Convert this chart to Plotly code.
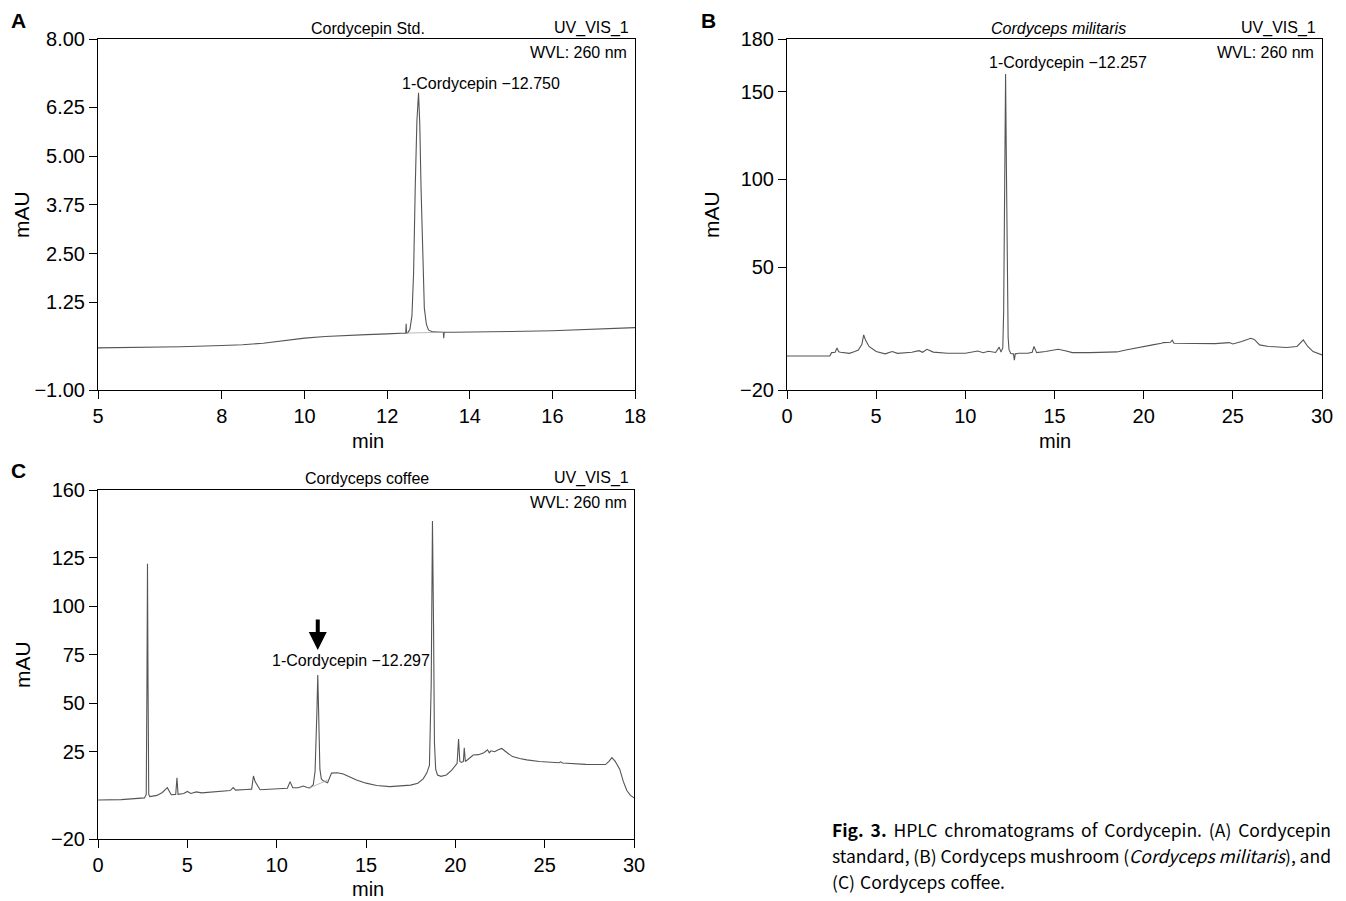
import plotly.graph_objects as go

# ---------------- Data ----------------
# Panel A: Cordycepin standard
time_a = [5.0, 6.0, 7.0, 8.0, 8.5, 9.0, 9.5, 10.0, 10.5, 11.0, 11.5, 12.0, 12.40,
          12.45, 12.46, 12.47, 12.50, 12.55, 12.60, 12.64, 12.68, 12.72, 12.76,
          12.79, 12.82, 12.86, 12.90, 12.95, 13.00, 13.10, 13.20, 13.36, 13.37,
          13.38, 13.6, 14.0, 15.0, 16.0, 17.0, 18.0]
mau_a = [0.08, 0.09, 0.11, 0.14, 0.16, 0.20, 0.26, 0.33, 0.37, 0.40, 0.42, 0.44, 0.45,
         0.46, 0.70, 0.46, 0.47, 0.55, 0.9, 2.0, 4.2, 5.9, 6.62,
         5.8, 4.2, 2.3, 1.1, 0.68, 0.54, 0.49, 0.48, 0.48, 0.33,
         0.48, 0.48, 0.49, 0.50, 0.52, 0.56, 0.60]
base_a_t = [12.47, 13.37]
base_a_v = [0.46, 0.48]

# Panel B: Cordyceps militaris
time_b = [0.0, 2.4, 2.5, 2.7, 2.8, 2.9, 3.0, 3.5, 3.8, 4.0, 4.2, 4.3, 4.4, 4.6, 5.0, 5.5,
          5.9, 6.2, 7.0, 7.4, 7.6, 7.85, 8.2, 9.0, 10.0, 10.7, 11.0, 11.3, 11.7, 11.9,
          12.0, 12.10, 12.15, 12.20, 12.257, 12.30, 12.35, 12.40, 12.45, 12.55, 12.70,
          12.75, 12.80, 13.0, 13.5, 13.75, 13.85, 14.0, 14.5, 15.2, 15.6, 16.0, 17.0,
          18.0, 18.5, 19.0, 19.5, 20.0, 20.5, 21.0, 21.1, 21.5, 21.6, 21.7, 22.0, 23.0,
          24.0, 24.8, 25.0, 25.5, 26.0, 26.2, 26.5, 27.0, 28.0, 28.6, 28.95, 29.2, 29.5,
          30.0]
mau_b = [-0.6, -0.6, 1.3, 1.5, 3.9, 1.8, 1.5, 0.9, 1.9, 2.8, 6.0, 11.4, 8.5, 4.8, 1.9, 0.6,
         1.9, 0.9, 1.5, 2.4, 1.5, 3.2, 1.6, 0.9, 0.9, 2.2, 1.2, 2.1, 1.4, 4.4,
         1.6, 4.0, 25.0, 85.0, 160.0, 110.0, 40.0, 10.0, 3.0, 0.8, 0.6,
         -3.0, 0.6, 0.9, 0.9, 1.5, 4.8, 1.3, 1.9, 3.2, 2.4, 1.3, 1.3,
         1.3, 1.7, 2.8, 3.9, 4.8, 5.7, 6.6, 7.0, 7.2, 8.4, 6.6, 6.6, 6.6,
         6.4, 7.0, 6.2, 7.6, 9.5, 8.8, 5.7, 4.8, 4.2, 4.8, 8.5, 4.8, 1.9,
         0.0]

# Panel C: Cordyceps coffee
time_c = [0.0, 1.3, 2.6, 2.70, 2.74, 2.77, 2.80, 2.84, 2.9, 3.3, 3.6, 3.88, 4.1, 4.35,
          4.42, 4.48, 4.8, 5.0, 5.2, 5.5, 5.8, 6.3, 7.0, 7.4, 7.57, 7.7, 8.3, 8.6, 8.7,
          8.8, 9.07, 9.5, 10.3, 10.6, 10.75, 10.9, 11.2, 11.49, 11.7, 11.86, 12.05,
          12.15, 12.25, 12.30, 12.35, 12.42, 12.5, 12.6, 12.85, 13.07, 13.4, 13.73,
          14.1, 14.47, 15.0, 15.6, 16.34, 16.9, 17.5, 17.9, 18.2, 18.4, 18.55, 18.65,
          18.72, 18.78, 18.83, 18.9, 19.0, 19.2, 19.5, 19.8, 20.0, 20.1, 20.18, 20.25,
          20.35, 20.45, 20.5, 20.56, 20.7, 21.0, 21.3, 21.6, 21.8, 21.9, 22.0, 22.2,
          22.4, 22.6, 22.9, 23.2, 23.6, 24.0, 24.7, 25.3, 25.8, 25.9, 26.0, 27.3, 28.4,
          28.6, 28.76, 28.95, 29.2, 29.4, 29.6, 29.8, 30.0]
mau_c = [0.1, 0.3, 1.2, 3.0, 60.0, 122.0, 60.0, 3.0, 1.9, 2.5, 4.0, 6.5, 2.8, 3.0,
         11.6, 3.0, 3.5, 4.5, 3.5, 4.3, 3.8, 4.2, 4.6, 5.0, 6.5, 5.2, 5.5, 5.7, 12.5,
         9.5, 5.4, 5.6, 6.0, 6.2, 9.6, 6.5, 6.4, 7.3, 6.6, 6.4, 8.0,
         15.0, 45.0, 64.6, 45.0, 16.0, 11.0, 10.0, 9.0, 14.0, 14.2, 13.5,
         12.0, 10.4, 8.8, 7.6, 7.0, 7.5, 7.8, 8.8, 11.0, 14.0, 18.0, 60.0,
         144.0, 90.0, 30.0, 16.0, 13.0, 12.3, 13.0, 15.5, 17.5, 19.0, 31.5, 20.0,
         19.5, 20.0, 27.0, 20.0, 21.0, 23.3, 23.5, 24.5, 26.0, 24.5, 25.5, 25.0,
         26.0, 26.7, 24.5, 22.5, 21.5, 20.8, 20.0, 19.5, 19.3, 19.8, 19.2, 18.5, 18.4,
         20.0, 22.0, 20.0, 16.0, 9.7, 5.0, 2.5, 1.2]
base_c_t = [11.86, 12.85]
base_c_v = [6.4, 10.4]

# Axis ticks
ticks_a_x = [5, 8, 10, 12, 14, 16, 18]
ticks_a_y = [8.0, 6.25, 5.0, 3.75, 2.5, 1.25, -1.0]
ticks_a_y_text = ["8.00", "6.25", "5.00", "3.75", "2.50", "1.25", "\u22121.00"]
ticks_b_x = [0, 5, 10, 15, 20, 25, 30]
ticks_b_y = [180, 150, 100, 50, -20]
ticks_b_y_text = ["180", "150", "100", "50", "\u221220"]
ticks_c_x = [0, 5, 10, 15, 20, 25, 30]
ticks_c_y = [160, 125, 100, 75, 50, 25, -20]
ticks_c_y_text = ["160", "125", "100", "75", "50", "25", "\u221220"]

# Caption lines (words, for justified layout)
caption_line1 = ["<b>Fig.</b>", "<b>3.</b>", "HPLC", "chromatograms", "of", "Cordycepin.", "(A)", "Cordycepin"]
caption_line2 = ["standard,", "(B)", "Cordyceps", "mushroom", "(<i>Cordyceps</i>", "<i>militaris</i>),", "and"]
caption_line3 = ["(C)", "Cordyceps", "coffee."]

# ---------------- Figure ----------------
W, H = 1346, 901
FONT = "Liberation Sans, Arial, sans-serif"
LINE = "#555555"
SMALL = 16

def px(x):
    return x / W

def py(y):
    return 1 - y / H

fig = go.Figure()
fig.add_trace(go.Scatter(x=time_a, y=mau_a, mode="lines", line=dict(color=LINE, width=1.1),
                         xaxis="x", yaxis="y", showlegend=False, hoverinfo="skip"))
fig.add_trace(go.Scatter(x=base_a_t, y=base_a_v, mode="lines", line=dict(color="#aaaaaa", width=0.8),
                         xaxis="x", yaxis="y", showlegend=False, hoverinfo="skip"))
fig.add_trace(go.Scatter(x=time_b, y=mau_b, mode="lines", line=dict(color=LINE, width=1.1),
                         xaxis="x2", yaxis="y2", showlegend=False, hoverinfo="skip"))
fig.add_trace(go.Scatter(x=time_c, y=mau_c, mode="lines", line=dict(color=LINE, width=1.1),
                         xaxis="x3", yaxis="y3", showlegend=False, hoverinfo="skip"))
fig.add_trace(go.Scatter(x=base_c_t, y=base_c_v, mode="lines", line=dict(color="#aaaaaa", width=0.8),
                         xaxis="x3", yaxis="y3", showlegend=False, hoverinfo="skip"))

axis_common = dict(showline=True, linecolor="black", linewidth=1, mirror=True,
                   ticks="outside", ticklen=8, tickwidth=1, tickcolor="black",
                   showgrid=False, zeroline=False, automargin=False,
                   tickfont=dict(family=FONT, size=20, color="black"))

dom_ax = [px(98), px(635)]
dom_bx = [px(787), px(1322)]
dom_cx = [px(98), px(634)]
dom_top = [py(390), py(39)]
dom_bot = [py(839), py(490)]

fig.update_layout(
    width=W, height=H, margin=dict(l=0, r=0, t=0, b=0, pad=0, autoexpand=False),
    paper_bgcolor="white", plot_bgcolor="white",
    font=dict(family=FONT, color="black"),
    xaxis=dict(domain=dom_ax, anchor="y", range=[5, 18], tickmode="array",
               tickvals=ticks_a_x, ticktext=[str(v) for v in ticks_a_x], **axis_common),
    yaxis=dict(domain=dom_top, anchor="x", range=[-1, 8], tickmode="array",
               tickvals=ticks_a_y, ticktext=ticks_a_y_text, **axis_common),
    xaxis2=dict(domain=dom_bx, anchor="y2", range=[0, 30], tickmode="array",
                tickvals=ticks_b_x, ticktext=[str(v) for v in ticks_b_x], **axis_common),
    yaxis2=dict(domain=dom_top, anchor="x2", range=[-20, 180], tickmode="array",
                tickvals=ticks_b_y, ticktext=ticks_b_y_text, **axis_common),
    xaxis3=dict(domain=dom_cx, anchor="y3", range=[0, 30], tickmode="array",
                tickvals=ticks_c_x, ticktext=[str(v) for v in ticks_c_x], **axis_common),
    yaxis3=dict(domain=dom_bot, anchor="x3", range=[-20, 160], tickmode="array",
                tickvals=ticks_c_y, ticktext=ticks_c_y_text, **axis_common),
)

ann = []

def text(x, y, s, size=SMALL, xanchor="center", yanchor="middle", font=FONT, **kw):
    ann.append(dict(x=px(x), y=py(y), xref="paper", yref="paper", text=s, showarrow=False,
                    xanchor=xanchor, yanchor=yanchor,
                    font=dict(family=font, size=size, color="black"), **kw))

# Panel letters
text(18, 20, "<b>A</b>", size=21)
text(708, 20, "<b>B</b>", size=21)
text(18, 470, "<b>C</b>", size=21)

# Axis titles
for cx, cy in [(368, 441), (1055, 441), (368, 889)]:
    text(cx, cy, "min", size=20)
for cx, cy in [(22, 215), (712, 215), (22, 665)]:
    text(cx, cy, "mAU", size=21, textangle=-90)

# Panel header texts
text(368, 28, "Cordycepin Std.")
text(1058, 28, "<i>Cordyceps militaris</i>")
text(367, 478, "Cordyceps coffee")
for rx, ry in [(631, 28), (1318, 28), (631, 478)]:
    text(rx, ry, "UV_VIS_1", xanchor="right")
for rx, ry in [(629, 52), (1316, 52), (629, 502)]:
    text(rx, ry, "WVL: 260 nm", xanchor="right")

# Peak labels (data coordinates)
ann.append(dict(x=12.32, y=6.85, xref="x", yref="y", text="1-Cordycepin \u221212.750",
                showarrow=False, xanchor="left", yanchor="middle",
                font=dict(family=FONT, size=SMALL, color="black")))
ann.append(dict(x=11.22, y=166.5, xref="x2", yref="y2", text="1-Cordycepin \u221212.257",
                showarrow=False, xanchor="left", yanchor="middle",
                font=dict(family=FONT, size=SMALL, color="black")))
ann.append(dict(x=9.63, y=72.0, xref="x3", yref="y3", text="1-Cordycepin \u221212.297",
                showarrow=False, xanchor="left", yanchor="middle",
                font=dict(family=FONT, size=SMALL, color="black")))
# Arrow in C
ann.append(dict(x=12.3, y=77.5, xref="x3", yref="y3", text="", showarrow=True,
                ax=0, ay=-32, arrowhead=2, arrowsize=0.9, arrowwidth=4, arrowcolor="black"))

fig.update_layout(annotations=ann)

# Caption: justified lines, laid out in the browser by measuring word widths
CAP_FONT = "Noto Sans CJK KR"
cap_js = """
(function(){
  document.body.style.margin='0';
  document.body.style.overflow='hidden';
  var lines = %s;
  var justify = [true, true, false];
  var x0 = 832, x1 = 1331, ys = [832, 858, 884];
  var svgs = document.querySelectorAll('svg.main-svg');
  var svg = svgs[svgs.length-1];
  var NS = 'http://www.w3.org/2000/svg';
  var g = document.createElementNS(NS, 'g');
  svg.appendChild(g);
  function mk(html, x, y){
    var t = document.createElementNS(NS, 'text');
    t.setAttribute('x', x); t.setAttribute('y', y);
    t.setAttribute('dominant-baseline', 'middle');
    t.style.fontFamily = '%s, sans-serif';
    t.style.fontSize = '17.5px';
    t.style.fill = 'black';
    var m = html.match(/^(\\(?)(<([bi])>)?([^<]*)(<\\/[bi]>)?(.*)$/);
    var pre = m[1], tag = m[3], body = m[4], post = m[6];
    if (pre) { var s0 = document.createElementNS(NS,'tspan'); s0.textContent = pre; t.appendChild(s0); }
    var s1 = document.createElementNS(NS,'tspan'); s1.textContent = body;
    if (tag === 'b') s1.style.fontWeight = 'bold';
    if (tag === 'i') s1.style.fontStyle = 'italic';
    t.appendChild(s1);
    if (post) { var s2 = document.createElementNS(NS,'tspan'); s2.textContent = post; t.appendChild(s2); }
    g.appendChild(t);
    return t;
  }
  lines.forEach(function(words, li){
    var els = words.map(function(w){ return mk(w, 0, ys[li]); });
    var widths = els.map(function(e){ return e.getComputedTextLength(); });
    var total = widths.reduce(function(a,b){return a+b;}, 0);
    var gap = justify[li] ? (x1 - x0 - total) / (words.length - 1) : 5;
    var x = x0;
    els.forEach(function(e, i){ e.setAttribute('x', x); x += widths[i] + gap; });
  });
})();
""" % (str([caption_line1, caption_line2, caption_line3]).replace("'", '"'), CAP_FONT)

fig.write_html("out.html", post_script=cap_js, config={"displayModeBar": False, "staticPlot": True})
